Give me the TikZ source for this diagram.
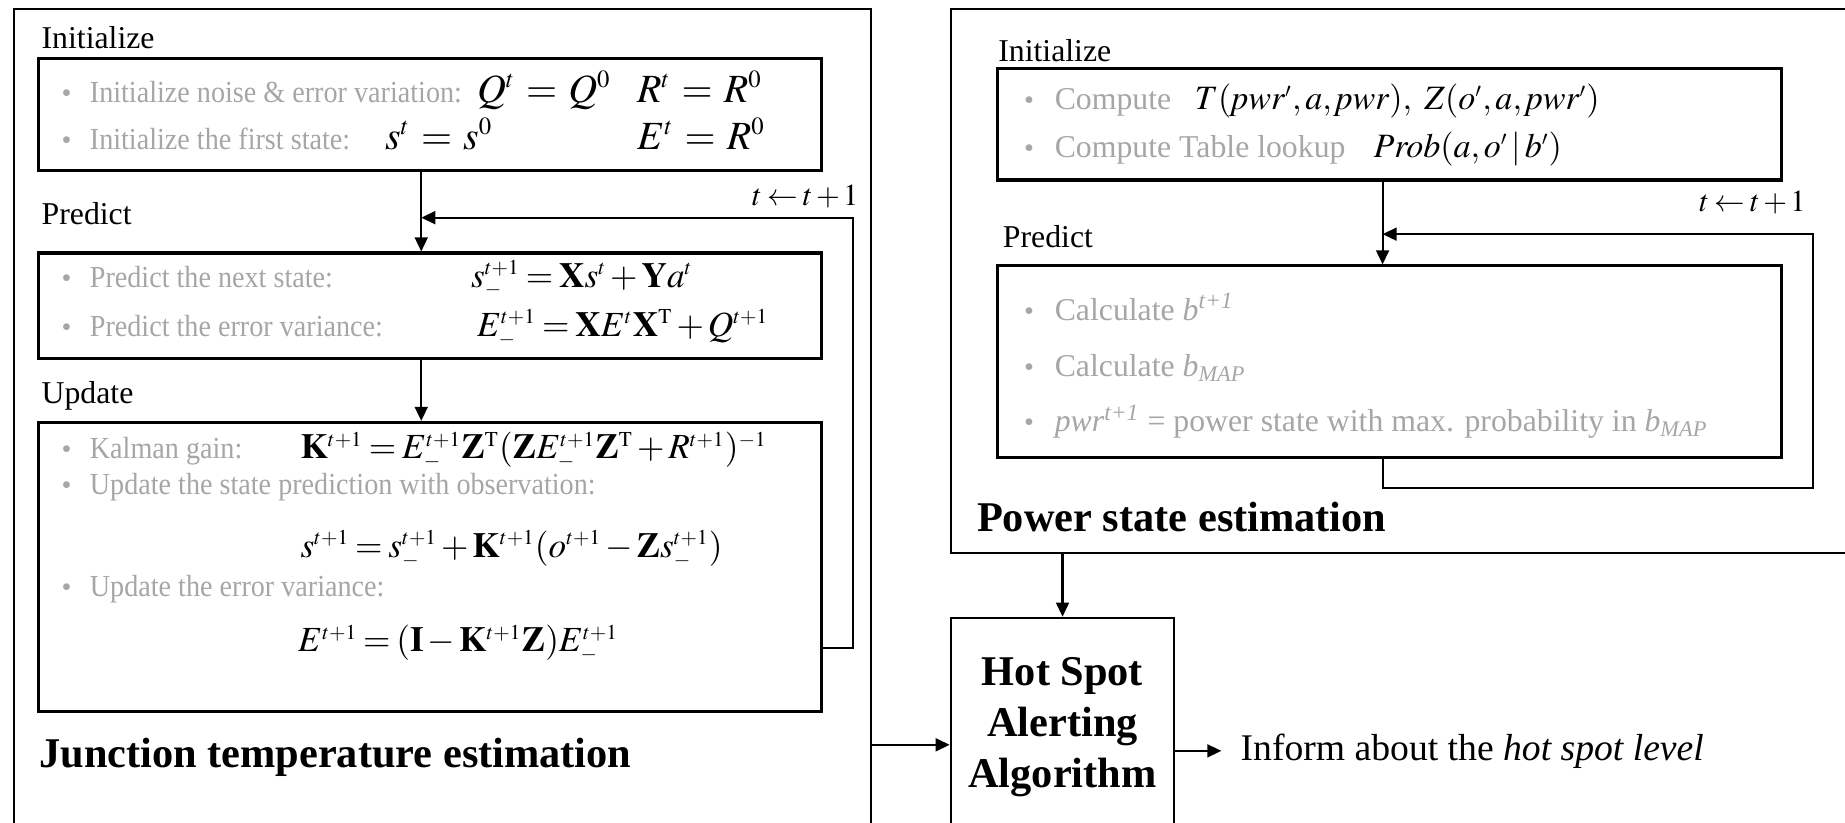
\documentclass[tikz,border=0pt]{standalone}
\usepackage{mathptmx}
\usepackage{fontspec}
\setmainfont{Liberation Serif}
\newfontfamily\narrowserif[FakeStretch=0.92]{Liberation Serif}
\usetikzlibrary{arrows.meta,fit}
\definecolor{softgray}{RGB}{166,166,166}
% compact script sizes and spacing for the formula lines
\DeclareMathSizes{17}{17}{10.5}{8}
\DeclareMathSizes{15}{15}{9}{7}
\DeclareMathSizes{14.5}{14.5}{8.7}{6.8}
\DeclareMathSizes{13}{13}{8}{6}
\thickmuskip=3mu plus 2mu\relax
\medmuskip=2mu plus 1mu\relax

\begin{document}
\begin{tikzpicture}[x=0.5pt,y=-0.5pt,
  outer/.style={draw,line width=0.9pt,inner sep=0pt},
  panel/.style={draw,line width=1.3pt,inner sep=0pt},
  arr/.style={line width=0.9pt,-{Triangle[length=6pt,width=5.5pt]}},
  head/.style={anchor=base west,inner sep=0pt,font=\fontsize{13.5}{16}\selectfont},
  title/.style={anchor=base west,inner sep=0pt,font=\fontsize{18}{21}\selectfont\bfseries},
  bul/.style={anchor=base west,inner sep=0pt,text=softgray,font=\fontsize{12}{14}\selectfont},
  item/.style={anchor=base west,inner sep=0pt,text=softgray,font=\narrowserif\fontsize{13}{15}\selectfont},
  ritem/.style={anchor=base west,inner sep=0pt,text=softgray,font=\fontsize{13.5}{16}\selectfont},
  eq/.style={anchor=base west,inner sep=0pt,font=\fontsize{15}{18}\selectfont},
  bigeq/.style={anchor=base west,inner sep=0pt,font=\fontsize{17}{20}\selectfont,
    execute at begin node={\thickmuskip=5mu plus 5mu\relax}},
  req/.style={anchor=base west,inner sep=0pt,font=\fontsize{14.5}{17}\selectfont},
  loopnote/.style={anchor=base east,inner sep=0pt,font=\fontsize{13}{15}\selectfont},
]
\path[use as bounding box] (0,0) rectangle (1568,699);
\clip (0,0) rectangle (1568,699);

% ---------- outer frames ----------
\node[outer,fit={(12,8) (740,720)}] (jte) {};
\node[outer,fit={(808,8) (1590,470)}] (pse) {};
\node[outer,fit={(808,525) (998,720)}] (hs) {};

% ---------- junction temperature estimation ----------
\node[head] (hInitL) at (35,41) {Initialize};
\node[panel,fit={(33,50) (698,145)}] (initL) {};
\node[bul] at (52,87) {\textbullet};
\node[item] at (76,87) {Initialize noise \& error variation:};
\node[bigeq] at (405,87) {$Q^t = Q^0$};
\node[bigeq] at (541,87) {$R^t = R^0$};
\node[bul] at (52,127) {\textbullet};
\node[item] at (76,127) {Initialize the first state:};
\node[bigeq] at (327,127) {$s^t = s^0$};
\node[bigeq] at (541,127) {$E^t = R^0$};

\node[head] (hPredL) at (35,191) {Predict};
\node[panel,fit={(33,215) (698,305)}] (predL) {};
\node[bul] at (52,244) {\textbullet};
\node[item] at (76,244) {Predict the next state:};
\node[eq] at (400,244) {$s_-^{t+1} = \mathbf{X}s^t + \mathbf{Y}a^t$};
\node[bul] at (52,286) {\textbullet};
\node[item] at (76,286) {Predict the error variance:};
\node[eq] at (405,286) {$E_-^{t+1} = \mathbf{X}E^t\mathbf{X}^{\mathrm{T}} + Q^{t+1}$};

\node[head] (hUpdL) at (35,343) {Update};
\node[panel,fit={(33,359) (698,605)}] (updL) {};
\node[bul] at (52,390) {\textbullet};
\node[item] at (76,390) {Kalman gain:};
\node[eq] at (255,390) {$\mathbf{K}^{t+1} = E_-^{t+1}\mathbf{Z}^{\mathrm{T}}(\mathbf{Z}E_-^{t+1}\mathbf{Z}^{\mathrm{T}} + R^{t+1})^{-1}$};
\node[bul] at (52,420) {\textbullet};
\node[item] at (76,420) {Update the state prediction with observation:};
\node[eq] at (255,474) {$s^{t+1} = s_-^{t+1} + \mathbf{K}^{t+1}(o^{t+1} - \mathbf{Z}s_-^{t+1})$};
\node[bul] at (52,507) {\textbullet};
\node[item] at (76,507) {Update the error variance:};
\node[eq] at (253,554) {$E^{t+1} = (\mathbf{I} - \mathbf{K}^{t+1}\mathbf{Z})E_-^{t+1}$};

\node[loopnote] (stepL) at (730,175) {$t \leftarrow t+1$};
\node[title] (tJte) at (33,652) {Junction temperature estimation};

% ---------- power state estimation ----------
\node[head] (hInitR) at (848,52) {Initialize};
\node[panel,fit={(848,58) (1514,153)}] (initR) {};
\node[bul] at (870,93) {\textbullet};
\node[ritem] at (896,93) {Compute};
\node[req] at (1015,93) {$T(\mathit{pwr}',a,\mathit{pwr}),\ Z(o',a,\mathit{pwr}')$};
\node[bul] at (870,134) {\textbullet};
\node[ritem] at (896,134) {Compute Table lookup};
\node[req] at (1167,134) {$\mathit{Prob}(a,o'\,|\,b')$};

\node[head] (hPredR) at (852,210) {Predict};
\node[panel,fit={(848,226) (1514,389)}] (predR) {};
\node[bul] at (870,272) {\textbullet};
\node[ritem] at (896,272) {Calculate \textit{b}\textsuperscript{\textit{t+1}}};
\node[bul] at (870,320) {\textbullet};
\node[ritem] at (896,320) {Calculate \textit{b}\raisebox{-0.35ex}{\fontsize{9.5}{11}\selectfont\textit{MAP}}};
\node[bul] at (870,367) {\textbullet};
\node[ritem] at (896,367) {\textit{pwr}\textsuperscript{\textit{t+1}} = power state with max. probability in \textit{b}\raisebox{-0.35ex}{\fontsize{9.5}{11}\selectfont\textit{MAP}}};

\node[loopnote] (stepR) at (1535,180) {$t \leftarrow t+1$};
\node[title] (tPse) at (830,452) {Power state estimation};

% ---------- hot spot alerting ----------
\node[align=center,inner sep=0pt,font=\fontsize{18}{21.5}\selectfont\bfseries] (hsText) at (903,618)
  {Hot Spot\\Alerting\\Algorithm};
\node[anchor=base west,inner sep=0pt,font=\fontsize{16}{19}\selectfont] (inform) at (1054,646)
  {Inform about the \textit{hot spot level}};

% ---------- connectors ----------
\coordinate (colL) at (358,0);
\coordinate (colR) at (1175,0);
\coordinate (loopL) at (725,551);
\coordinate (loopR) at (1541,415);
\coordinate (backL) at (358,185);
\coordinate (backR) at (1175,199);
\coordinate (rowA) at (0,633);

\draw[arr] (initL.south -| colL) -- (predL.north -| colL);
\draw[arr] (predL.south -| colL) -- (updL.north -| colL);
\draw[arr] (updL.east |- loopL) -- (loopL) -- (loopL |- backL) -- (backL);

\draw[arr] (initR.south -| colR) -- (predR.north -| colR);
\draw[arr] (predR.south -| colR) -- (colR |- loopR) -- (loopR) -- (loopR |- backR) -- (backR);

\draw[arr] (pse.south -| hs.north) -- (hs.north);
\draw[arr] (jte.east |- rowA) -- (hs.west |- rowA);
\draw[arr] (hs.east |- inform.west) -- ([xshift=-8pt]inform.west);
\end{tikzpicture}
\end{document}
